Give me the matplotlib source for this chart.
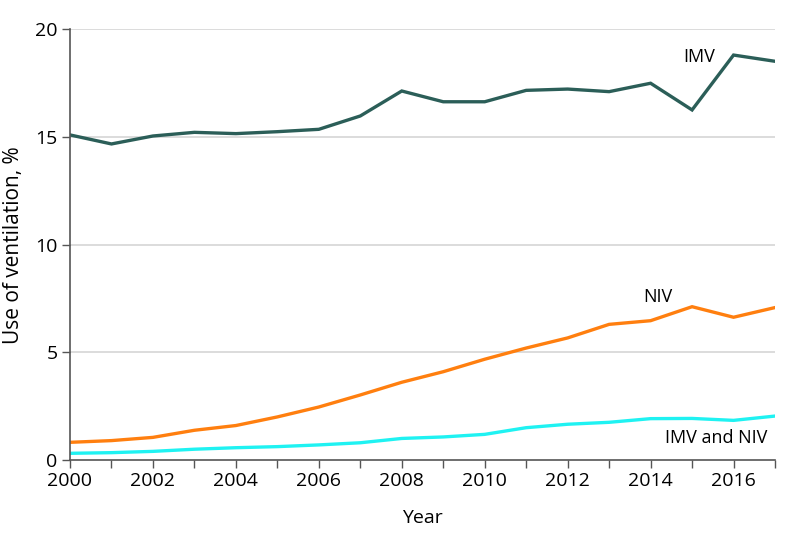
import matplotlib
matplotlib.use("Agg")
import matplotlib.pyplot as plt

plt.rcParams['font.family'] = ['Open Sans', 'DejaVu Sans']

years = list(range(2000, 2018))
imv = [15.1, 14.68, 15.05, 15.22, 15.16, 15.25, 15.36, 15.98, 17.14, 16.64,
       16.64, 17.17, 17.23, 17.11, 17.5, 16.26, 18.81, 18.52]
niv = [0.82, 0.9, 1.05, 1.38, 1.6, 2.0, 2.46, 3.02, 3.61, 4.1,
       4.68, 5.2, 5.67, 6.3, 6.47, 7.12, 6.63, 7.08]
both = [0.31, 0.34, 0.4, 0.5, 0.57, 0.62, 0.7, 0.8, 1.0, 1.07,
        1.19, 1.5, 1.66, 1.75, 1.92, 1.93, 1.84, 2.04]
yticks = [0, 5, 10, 15, 20]
xticks = list(range(2000, 2018, 2))

fig = plt.figure(figsize=(7.98, 5.45), dpi=100)
ax = fig.add_axes([0.0877, 0.156, 0.8835, 0.79])

for v in yticks[1:]:
    ax.axhline(v, color='#d9d9d9', lw=1.3, zorder=0)

ax.plot(years, imv, color='#2b5e58', lw=2.4, solid_joinstyle='miter')
ax.plot(years, niv, color='#ff7f0f', lw=2.4, solid_joinstyle='miter')
ax.plot(years, both, color='#1ff2f2', lw=2.4, solid_joinstyle='miter')

ax.text(2015.55, 18.72, 'IMV', ha='right', va='center', fontsize=13)
ax.text(2014.18, 7.57, 'NIV', ha='center', va='center', fontsize=13)
ax.text(2016.81, 1.02, 'IMV and NIV', ha='right', va='center', fontsize=13)

ax.set_xlim(2000, 2017)
ax.set_ylim(0, 20)
ax.set_xticks(xticks)
ax.set_xticks(years, minor=True)
ax.set_yticks(yticks)
ax.tick_params(axis='both', which='both', direction='out', length=6, width=1,
               color='#555555', labelsize=14, pad=3)
ax.tick_params(axis='x', which='minor', length=6)
for s in ['top', 'right']:
    ax.spines[s].set_visible(False)
for s in ['left', 'bottom']:
    ax.spines[s].set_color('#555555')
    ax.spines[s].set_linewidth(1.2)

ax.set_xlabel('Year', fontsize=14, labelpad=13)
ax.set_ylabel('Use of ventilation, %', fontsize=15, labelpad=8)

fig.savefig('out.png', dpi=100)
